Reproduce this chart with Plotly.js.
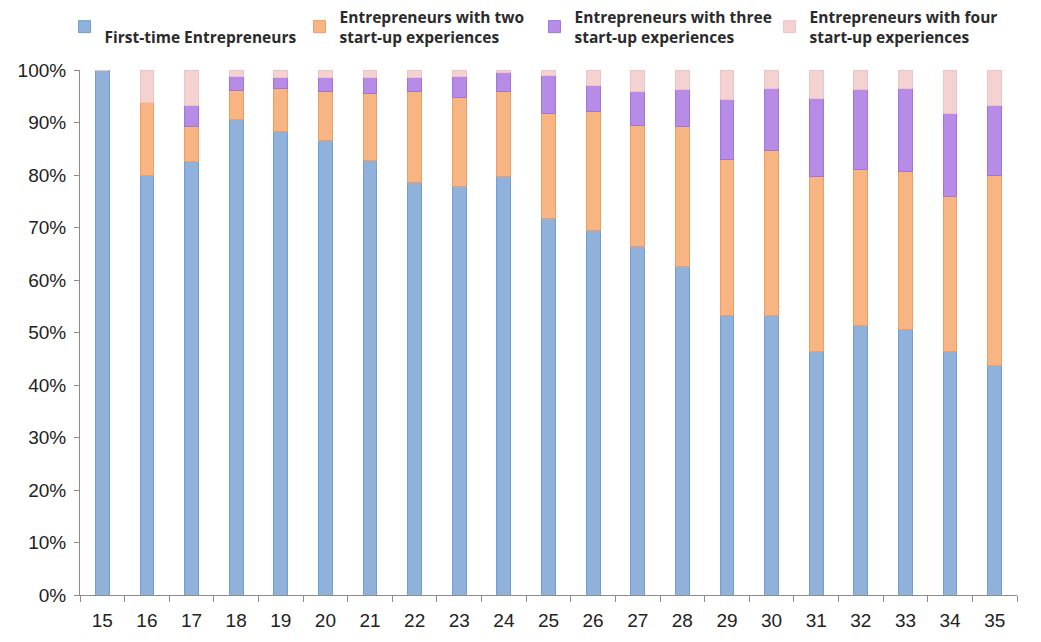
<!DOCTYPE html>
<html>
<head>
<meta charset="utf-8">
<script src="https://cdn.plot.ly/plotly-3.0.1.min.js"></script>
<style>html,body{margin:0;padding:0;background:#fff;}#chart{width:1041px;height:642px;}</style>
</head>
<body>
<div id="chart"></div>
<script>
const ages = ["15","16","17","18","19","20","21","22","23","24","25","26","27","28","29","30","31","32","33","34","35"];
const firstTime = [100, 80, 82.5, 90.5, 88.2, 86.5, 82.7, 78.6, 77.9, 79.7, 71.8, 69.5, 66.3, 62.5, 53.2, 53.2, 46.3, 51.3, 50.5, 46.3, 43.8];
const twoExp    = [0, 13.8, 6.7, 5.6, 8.3, 9.5, 12.8, 17.4, 16.8, 16.3, 19.9, 22.6, 23.2, 26.7, 29.7, 31.5, 33.4, 29.7, 30.1, 29.6, 36.2];
const threeExp  = [0, 0, 4.1, 2.7, 2.0, 2.5, 3.0, 2.5, 4.0, 3.5, 7.3, 5.0, 6.4, 7.0, 11.4, 11.8, 14.9, 15.2, 15.9, 15.8, 13.3];
const fourExp   = [0, 6.2, 6.7, 1.2, 1.5, 1.5, 1.5, 1.5, 1.3, 0.5, 1.0, 2.9, 4.1, 3.8, 5.7, 3.5, 5.4, 3.8, 3.5, 8.3, 6.7];
const seriesNames = ["&nbsp;<br>First-time Entrepreneurs", "Entrepreneurs with two<br>start-up experiences", "Entrepreneurs with three<br>start-up experiences", "Entrepreneurs with four<br>start-up experiences"];
const yTickVals = [0,10,20,30,40,50,60,70,80,90,100];
const yTickText = ["0%","10%","20%","30%","40%","50%","60%","70%","80%","90%","100%"];

const fills = ["#90b2da", "#f8b584", "#b68ce6", "#f4d2d2"];
const edges = ["#6f9dd6", "#f09c62", "#9f74dc", "#eec3c3"];
const data = [firstTime, twoExp, threeExp, fourExp].map((vals, i) => ({
  type: "bar",
  x: ages,
  y: vals,
  name: seriesNames[i],
  width: 0.31,
  marker: {color: fills[i], line: {color: edges[i], width: 1}},
  hoverinfo: "x+y+name"
}));

const layout = {
  width: 1041, height: 642,
  barmode: "stack",
  paper_bgcolor: "#ffffff",
  plot_bgcolor: "#ffffff",
  margin: {l: 80, r: 24, t: 70, b: 47, autoexpand: false},
  showlegend: true,
  legend: {
    orientation: "h",
    xref: "container", yref: "container",
    x: 0.062, y: 1.0, xanchor: "left", yanchor: "top",
    bgcolor: "rgba(0,0,0,0)",
    traceorder: "normal",
    valign: "middle",
    entrywidth: 190, entrywidthmode: "pixels",
    font: {family: "Open Sans, sans-serif", size: 15.5, color: "#2b2b2b", weight: 700},
    itemclick: false
  },
  xaxis: {
    type: "category",
    showline: true, linecolor: "#8c8c8c", linewidth: 1,
    ticks: "outside", tickson: "boundaries", ticklen: 6, tickcolor: "#8c8c8c",
    tickfont: {family: "Liberation Sans, Arial, sans-serif", size: 19, color: "#222"},
    ticklabelstandoff: 8,
    showgrid: false, zeroline: false, fixedrange: true, automargin: false
  },
  yaxis: {
    range: [0, 100],
    tickvals: yTickVals, ticktext: yTickText,
    showline: true, linecolor: "#8c8c8c", linewidth: 1,
    ticks: "outside", ticklen: 5, tickcolor: "#8c8c8c",
    tickfont: {family: "Liberation Sans, Arial, sans-serif", size: 19, color: "#222"},
    ticklabelstandoff: 4,
    showgrid: false, zeroline: false, fixedrange: true, automargin: false
  }
};

Plotly.newPlot("chart", data, layout, {displayModeBar: false, staticPlot: true});
</script>
</body>
</html>
